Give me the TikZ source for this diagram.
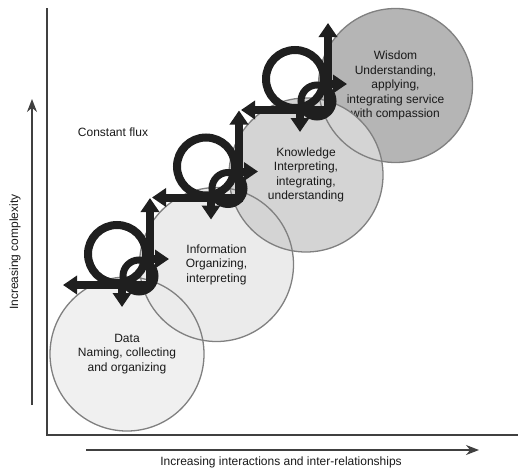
\documentclass[tikz,border=0pt]{standalone}
\usepackage{fontspec}
\setmainfont{Liberation Sans}
\usetikzlibrary{arrows.meta,positioning}

\begin{document}
\begin{tikzpicture}[x=1pt,y=-1pt,
   every node/.style={font=\fontsize{12}{14.5}\selectfont,text=black!90},
   phase/.style={circle,minimum size=154pt,inner sep=0pt,align=center},
   rim/.style={draw=black!50,line width=1.3pt},
   axis/.style={draw=black!75,line width=1.4pt},
   glyph/.style={draw=black!88,line width=8pt},
   tip/.style={-{Triangle[width=18pt,length=14pt]}},
   flux/.pic={
     \draw[glyph] (-33,-31) circle (29pt);
     \draw[glyph,line width=7pt] (-11,-9) circle (16pt);
     \draw[glyph,tip] (0,4) -- (0,-87);
     \draw[glyph,tip] (4,0) -- (-87,0);
     \draw[glyph,tip] (0,-26) -- (19,-26);
     \draw[glyph,tip] (-28,0) -- (-28,22);
   }]
\useasboundingbox (0,0) rectangle (518,471);

% axes
\draw[axis] (47,8) -- (47,435) -- (518,435);
\draw[axis,-{Stealth[length=13pt,width=10pt]}] (86,450) -- (479,450);
\draw[axis,-{Stealth[length=13pt,width=10pt]}] (32,405) -- (32,99);
\node (xlabel) at (281,462) {Increasing interactions and inter-relationships};
\node[rotate=90] (ylabel) at (15,252) {Increasing complexity};
\node (flux) at (113,132) {Constant flux};

% phases
\node[phase,fill=black!6] (data) at (127,354) {Data\\Naming, collecting\\and organizing};
\node[phase,fill=black!8] (info) at (216.5,264.5) {Information\\Organizing,\\interpreting};
\node[phase,fill=black!29] (wisdom) at (395.5,85.5) {Wisdom\\Understanding,\\applying,\\integrating service\\with compassion};
\node[phase,fill=black!17] (know) at (306,175) {Knowledge\\Interpreting,\\integrating,\\understanding};
\foreach \n in {data,info,know,wisdom}
  \draw[rim] (\n.center) circle (77pt);

% loops
\pic at (150,285) {flux};
\pic at (239,197.5) {flux};
\pic at (328,110) {flux};
\end{tikzpicture}
\end{document}
